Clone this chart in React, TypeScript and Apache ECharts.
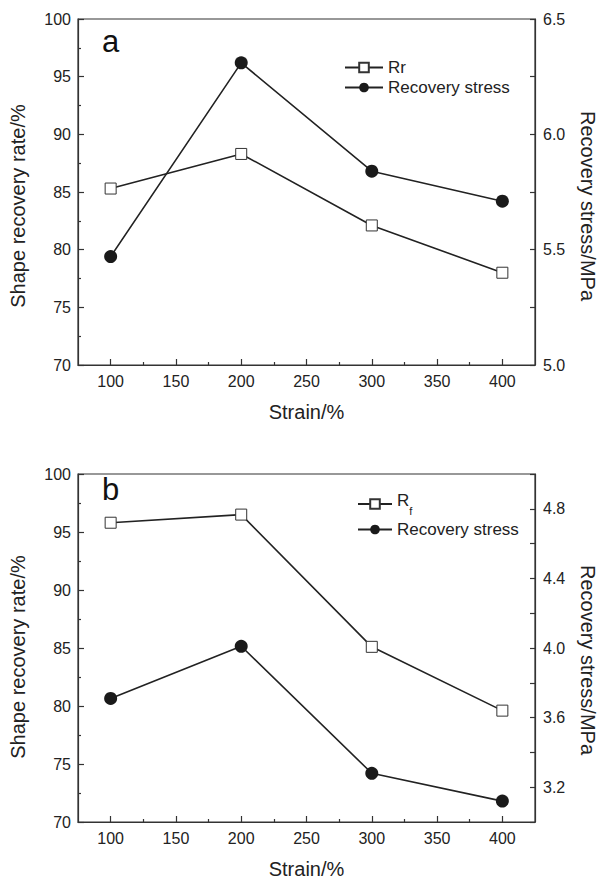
import React, { useEffect, useRef } from "react";
import * as echarts from "echarts";

// ---- data ----
const strain = [100, 200, 300, 400];
const rrA = [85.3, 88.3, 82.1, 78.0];
const stressA = [5.47, 6.31, 5.84, 5.71];
const rfB = [95.8, 96.5, 85.1, 79.6];
const stressB = [3.71, 4.01, 3.28, 3.12];
const xMajor = [100, 150, 200, 250, 300, 350, 400];
const xMinor = [125, 175, 225, 275, 325, 375];
const panelLabels = ["a", "b"];

const FONT = '"Liberation Sans", Arial, Helvetica, sans-serif';
const INK = "#222";

const pairs = (xs: number[], ys: number[]) => xs.map((x, i) => [x, ys[i]]);

function App() {
  const ref = useRef<HTMLDivElement>(null);
  useEffect(() => {
    if (!ref.current) return;
    const chart = echarts.init(ref.current, null, { renderer: "svg" });
    const grids = [
      { left: 78, top: 19, width: 470, height: 346 },
      { left: 78, top: 474, width: 470, height: 348 },
    ];
    const xAxes: any[] = [];
    const yAxes: any[] = [];
    grids.forEach((_, gi) => {
      xAxes.push({
        type: "value",
        gridIndex: gi,
        min: 75,
        max: 425,
        interval: 25,
        name: "Strain/%",
        nameLocation: "middle",
        nameGap: 37,
        nameTextStyle: { fontFamily: FONT, fontSize: 20, color: INK },
        axisLine: { show: true, lineStyle: { color: "#333", width: 1.2 } },
        axisTick: { show: true, inside: true, length: 6, customValues: xMajor, lineStyle: { color: "#333", width: 1.2 } },
        axisLabel: { customValues: xMajor, margin: 8, fontFamily: FONT, fontSize: 16, color: INK },
        splitLine: { show: false },
      });
      xAxes.push({
        type: "value",
        gridIndex: gi,
        min: 75,
        max: 425,
        interval: 25,
        position: "bottom",
        axisLine: { show: false },
        axisTick: { show: true, inside: true, length: 3, customValues: xMinor, lineStyle: { color: "#333", width: 1.2 } },
        axisLabel: { show: false },
        splitLine: { show: false },
      });
      yAxes.push({
        type: "value",
        gridIndex: gi,
        position: "left",
        min: 70,
        max: 100,
        interval: 5,
        name: "Shape recovery rate/%",
        nameLocation: "middle",
        nameGap: 50,
        nameTextStyle: { fontFamily: FONT, fontSize: 20, color: INK, padding: [0, gi === 0 ? 28 : 18, 0, 0] },
        axisLine: { show: true, lineStyle: { color: "#333", width: 1.2 } },
        axisTick: { show: true, inside: true, length: 6, lineStyle: { color: "#333", width: 1.2 } },
        minorTick: { show: true, splitNumber: 2, length: 3, lineStyle: { color: "#333", width: 1.2 } },
        axisLabel: { margin: 7, fontFamily: FONT, fontSize: 16, color: INK },
        splitLine: { show: false },
        minorSplitLine: { show: false },
      });
      yAxes.push(
        gi === 0
          ? {
              type: "value",
              gridIndex: gi,
              position: "right",
              min: 5.0,
              max: 6.5,
              interval: 0.5,
              name: "Recovery stress/MPa",
              nameLocation: "middle",
              nameGap: 43,
              nameRotate: -90,
              nameTextStyle: { fontFamily: FONT, fontSize: 20, color: INK, padding: [0, 0, 0, 28] },
              axisLine: { show: true, lineStyle: { color: "#333", width: 1.2 } },
              axisTick: { show: true, inside: true, length: 5, lineStyle: { color: "#333", width: 1.2 } },
              minorTick: { show: true, splitNumber: 2, length: 5, lineStyle: { color: "#333", width: 1.2 } },
              axisLabel: { margin: 8, fontFamily: FONT, fontSize: 16, color: INK, formatter: (v: number) => v.toFixed(1) },
              splitLine: { show: false },
              minorSplitLine: { show: false },
            }
          : {
              type: "value",
              gridIndex: gi,
              position: "right",
              min: 3.0,
              max: 5.0,
              interval: 0.2,
              name: "Recovery stress/MPa",
              nameLocation: "middle",
              nameGap: 43,
              nameRotate: -90,
              nameTextStyle: { fontFamily: FONT, fontSize: 20, color: INK, padding: [0, 0, 0, 24] },
              axisLine: { show: true, lineStyle: { color: "#333", width: 1.2 } },
              axisTick: { show: true, inside: true, length: 5, lineStyle: { color: "#333", width: 1.2 } },
              axisLabel: {
                margin: 8,
                fontFamily: FONT,
                fontSize: 16,
                color: INK,
                formatter: (v: number) => {
                  const t = Math.round(v * 10);
                  return t % 4 === 0 && t > 30 && t < 50 ? v.toFixed(1) : "";
                },
              },
              splitLine: { show: false },
              minorSplitLine: { show: false },
            }
      );
    });

    const rectSeries = (name: string, gi: number, data: number[][]) => ({
      name,
      type: "line",
      xAxisIndex: gi * 2,
      yAxisIndex: gi * 2,
      data,
      symbol: "rect",
      symbolSize: 11,
      lineStyle: { color: INK, width: 1.6 },
      itemStyle: { color: "#fff", borderColor: "#333", borderWidth: 1 },
      z: 3,
    });
    const dotSeries = (name: string, gi: number, data: number[][]) => ({
      name,
      type: "line",
      xAxisIndex: gi * 2,
      yAxisIndex: gi * 2 + 1,
      data,
      symbol: "circle",
      symbolSize: 13,
      lineStyle: { color: INK, width: 1.6 },
      itemStyle: { color: "#1a1a1a", borderColor: "#1a1a1a", borderWidth: 0 },
      z: 2,
    });

    chart.setOption({
      animation: false,
      backgroundColor: "#fff",
      textStyle: { fontFamily: FONT },
      grid: grids.map((g) => ({ ...g, show: true, borderColor: "#333", borderWidth: 1.2, backgroundColor: "transparent" })),
      xAxis: xAxes,
      yAxis: yAxes,
      legend: [
        {
          orient: "vertical",
          left: 339,
          top: 54,
          itemWidth: 38,
          itemHeight: 12,
          itemGap: 3,
          data: ["Rr", "Recovery stress"],
          textStyle: { fontFamily: FONT, fontSize: 17, color: INK },
          selectedMode: false,
        },
        {
          orient: "vertical",
          left: 352,
          top: 487,
          itemWidth: 34,
          itemHeight: 12,
          itemGap: 5,
          data: ["Rf", "Recovery stress"],
          formatter: (n: string) => (n === "Rf" ? "{r|R}{s|f}" : n),
          textStyle: {
            fontFamily: FONT,
            fontSize: 17,
            color: INK,
            rich: {
              r: { fontFamily: FONT, fontSize: 17, color: INK, verticalAlign: "top", lineHeight: 24 },
              s: { fontFamily: FONT, fontSize: 11, color: "#222", verticalAlign: "bottom", lineHeight: 24 },
            },
          },
          selectedMode: false,
        },
      ],
      graphic: [
        { type: "text", left: 102, top: 26, style: { text: panelLabels[0], fontFamily: FONT, fontSize: 31, fill: "#111" } },
        { type: "text", left: 102, top: 474, style: { text: panelLabels[1], fontFamily: FONT, fontSize: 31, fill: "#111" } },
      ],
      series: [
        rectSeries("Rr", 0, pairs(strain, rrA)),
        dotSeries("Recovery stress", 0, pairs(strain, stressA)),
        rectSeries("Rf", 1, pairs(strain, rfB)),
        dotSeries("Recovery stress", 1, pairs(strain, stressB)),
      ],
    });
    return () => chart.dispose();
  }, []);
  return <div ref={ref} style={{ position: "absolute", left: 0, top: 0, width: 606, height: 880 }} />;
}

export default App;
